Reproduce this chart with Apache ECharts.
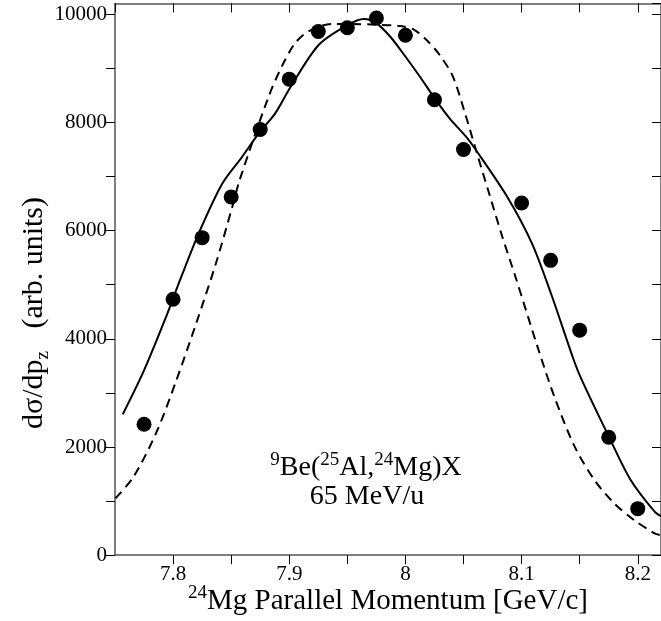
<!DOCTYPE html>
<html>
<head>
<meta charset="utf-8">
<script src="https://cdn.jsdelivr.net/npm/echarts@6/dist/echarts.min.js"></script>
<style>
  html, body { margin: 0; padding: 0; background: #fff; }
  #chart { width: 661px; height: 621px; }
</style>
</head>
<body>
<div id="chart"></div>
<script>
// Measured momentum distribution (parallel momentum in GeV/c, cross section in arb. units)
const dataMomentum = [7.775, 7.8, 7.825, 7.85, 7.875, 7.9, 7.925, 7.95, 7.975, 8.0,
                      8.025, 8.05, 8.1, 8.125, 8.15, 8.175, 8.2];
const dataSigma = [2420, 4730, 5870, 6620, 7870, 8800, 9680, 9750, 9930, 9610,
                   8420, 7500, 6510, 5450, 4160, 2180, 860];

// Calculated curve, solid line
const solidMomentum = [7.7567, 7.7745, 7.7929, 7.8071, 7.8227, 7.8425, 7.8595, 7.8737, 7.8879,
                       7.9006, 7.9253, 7.9502, 7.9644, 7.9751, 7.987, 8.0001, 8.0125, 8.0252,
                       8.038, 8.0522, 8.0607, 8.0876, 8.1089, 8.1259, 8.1442, 8.1514, 8.1754,
                       8.1939, 8.2145, 8.22];
const solidSigma = [2604, 3392, 4348, 5148, 5980, 6874, 7366, 7798, 8168,
                    8636, 9431, 9800, 9911, 9832, 9584, 9214, 8845, 8445,
                    8076, 7736, 7490, 6627, 5765, 4800, 3650, 3260, 2179,
                    1390, 804, 720];

// Calculated curve, dashed line
const dashedMomentum = [7.7504, 7.766, 7.7859, 7.8029, 7.8199, 7.8369, 7.851, 7.8573, 7.8822,
                        7.8935, 7.9049, 7.9162, 7.936, 7.953, 7.9757, 7.9955, 8.0069, 8.0182,
                        8.0295, 8.0409, 8.0522, 8.0607, 8.072, 8.0834, 8.0947, 8.1145,
                        8.1287, 8.1457, 8.1627, 8.1797, 8.1967, 8.2145, 8.22];
const dashedSigma = [1052, 1451, 2283, 3238, 4287, 5396, 6442, 6935, 8475,
                     9030, 9462, 9677, 9819, 9819, 9806, 9782, 9721, 9523,
                     9246, 8845, 8105, 7490, 6690, 5887, 5148, 3800,
                     2900, 2006, 1390, 959, 651, 405, 370];

// Axis ranges and labelled ticks
const xRange = [7.75, 8.22];
const yRange = [0, 10200];
const xLabelTicks = ['7.8', '7.9', '8', '8.1', '8.2'];
const yLabelTicks = ['0', '2000', '4000', '6000', '8000', '10000'];

const zip = (xs, ys) => xs.map((x, i) => [x, ys[i]]);

const FONT = '"Liberation Serif", "DejaVu Serif", serif';
const AXIS_COLOR = '#555';

const xLabel = v => {
  const s = String(Number(v.toFixed(2)));
  return xLabelTicks.includes(s) ? s : '';
};
const yLabel = v => {
  const s = String(Math.round(v));
  return yLabelTicks.includes(s) ? s : '';
};

const baseX = {
  type: 'value', min: xRange[0], max: xRange[1], interval: 0.05,
  splitLine: { show: false },
  axisLine: { show: true, onZero: false, lineStyle: { color: AXIS_COLOR, width: 1.5 } },
};
const baseY = {
  type: 'value', min: yRange[0], max: yRange[1], interval: 1000,
  splitLine: { show: false },
  axisLine: { show: true, onZero: false, lineStyle: { color: AXIS_COLOR, width: 1.5 } },
};

const chart = echarts.init(document.getElementById('chart'), null, { renderer: 'canvas' });

chart.setOption({
  animation: false,
  backgroundColor: '#fff',
  grid: { left: 115, right: -7, top: 3.4, bottom: 65.8, containLabel: false },
  xAxis: [
    Object.assign({}, baseX, {
      position: 'bottom',
      axisTick: { show: true, inside: false, length: 9, lineStyle: { color: '#000', width: 1 } },
      axisLabel: { show: true, formatter: xLabel, margin: 9, color: '#000',
                   fontFamily: FONT, fontSize: 21, showMaxLabel: false, showMinLabel: false }
    }),
    Object.assign({}, baseX, {
      position: 'top',
      axisTick: { show: true, inside: true, length: 9, lineStyle: { color: '#000', width: 1 } },
      axisLabel: { show: false }
    })
  ],
  yAxis: [
    Object.assign({}, baseY, {
      position: 'left',
      axisTick: { show: true, inside: false, length: 9, lineStyle: { color: '#000', width: 1 } },
      axisLabel: { show: true, formatter: yLabel, margin: 8, color: '#000',
                   fontFamily: FONT, fontSize: 21, showMaxLabel: false }
    }),
    Object.assign({}, baseY, {
      position: 'right',
      axisTick: { show: true, inside: true, length: 9, lineStyle: { color: '#000', width: 1 } },
      axisLabel: { show: false }
    })
  ],
  series: [
    {
      name: 'dashed', type: 'line', xAxisIndex: 0, yAxisIndex: 0,
      data: zip(dashedMomentum, dashedSigma), smooth: 0.3, symbol: 'none',
      lineStyle: { color: '#000', width: 2, type: [9, 6] }, z: 2
    },
    {
      name: 'solid', type: 'line', xAxisIndex: 0, yAxisIndex: 0,
      data: zip(solidMomentum, solidSigma), smooth: 0.3, symbol: 'none',
      lineStyle: { color: '#000', width: 2 }, z: 3
    },
    {
      name: 'data', type: 'scatter', xAxisIndex: 0, yAxisIndex: 0,
      data: zip(dataMomentum, dataSigma), symbol: 'circle', symbolSize: 15,
      itemStyle: { color: '#000', opacity: 1 }, z: 4
    }
  ],
  graphic: [
    {
      type: 'text', x: 36, y: 313, rotation: Math.PI / 2,
      style: {
        text: '{m|dσ/dp}{s|z}{m|   (arb. units)}',
        align: 'center', verticalAlign: 'middle', fill: '#000',
        rich: {
          m: { fontFamily: FONT, fontSize: 30, lineHeight: 34, verticalAlign: 'top', fill: '#000' },
          s: { fontFamily: FONT, fontSize: 19, lineHeight: 19, verticalAlign: 'bottom', fill: '#000' }
        }
      }
    },
    {
      type: 'text', x: 388, y: 600,
      style: {
        text: '{p|24}{m|Mg Parallel Momentum [GeV/c]}',
        align: 'center', verticalAlign: 'middle', fill: '#000',
        rich: {
          m: { fontFamily: FONT, fontSize: 29, lineHeight: 32, verticalAlign: 'bottom', fill: '#000' },
          p: { fontFamily: FONT, fontSize: 19, lineHeight: 19, verticalAlign: 'top', fill: '#000' }
        }
      }
    },
    {
      type: 'text', x: 366, y: 466,
      style: {
        text: '{p|9}{m|Be(}{p|25}{m|Al,}{p|24}{m|Mg)X}',
        align: 'center', verticalAlign: 'middle', fill: '#000',
        rich: {
          m: { fontFamily: FONT, fontSize: 28, lineHeight: 31, verticalAlign: 'bottom', fill: '#000' },
          p: { fontFamily: FONT, fontSize: 19, lineHeight: 19, verticalAlign: 'top', fill: '#000' }
        }
      }
    },
    {
      type: 'text', x: 367, y: 497,
      style: {
        text: '65 MeV/u', align: 'center', verticalAlign: 'middle', fill: '#000',
        fontFamily: FONT, fontSize: 28
      }
    }
  ]
});
</script>
</body>
</html>
